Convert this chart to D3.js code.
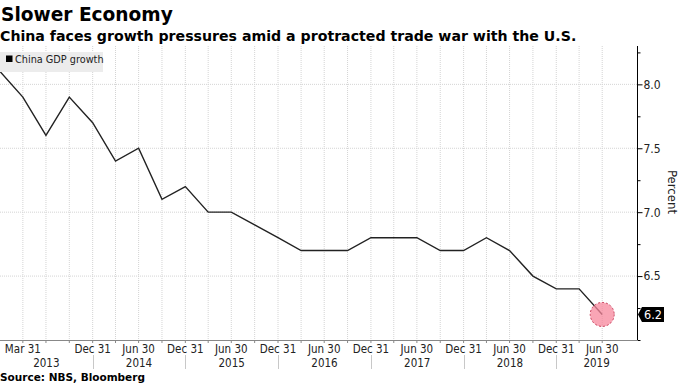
<!DOCTYPE html>
<html><head><meta charset="utf-8">
<script src="https://cdn.jsdelivr.net/npm/d3@7"></script>
<style>
body{margin:0;background:#fff;}
svg{display:block;}
</style></head>
<body>
<script>
// ---- data ----
const quarters = ["2012-12-31","2013-03-31","2013-06-30","2013-09-30","2013-12-31",
  "2014-03-31","2014-06-30","2014-09-30","2014-12-31",
  "2015-03-31","2015-06-30","2015-09-30","2015-12-31",
  "2016-03-31","2016-06-30","2016-09-30","2016-12-31",
  "2017-03-31","2017-06-30","2017-09-30","2017-12-31",
  "2018-03-31","2018-06-30","2018-09-30","2018-12-31",
  "2019-03-31","2019-06-30"];
const gdpGrowth = [8.1,7.9,7.6,7.9,7.7,7.4,7.5,7.1,7.2,7.0,7.0,6.9,6.8,6.7,6.7,6.7,6.8,6.8,6.8,6.7,6.7,6.8,6.7,6.5,6.4,6.4,6.2];
const tickDates = ["2013-03-31","2013-12-31","2014-06-30","2014-12-31","2015-06-30","2015-12-31",
  "2016-06-30","2016-12-31","2017-06-30","2017-12-31","2018-06-30","2018-12-31","2019-06-30"];
const tickLabels = ["Mar 31","Dec 31","Jun 30","Dec 31","Jun 30","Dec 31","Jun 30","Dec 31","Jun 30","Dec 31","Jun 30","Dec 31","Jun 30"];
const years = ["2013","2014","2015","2016","2017","2018","2019"];
const yTicks = [6.5,7.0,7.5,8.0];
const yTickLabels = ["6.5","7.0","7.5","8.0"];
const seriesName = "China GDP growth";
const title = "Slower Economy";
const subtitle = "China faces growth pressures amid a protracted trade war with the U.S.";
const source = "Source: NBS, Bloomberg";
const axisTitle = "Percent";

// ---- layout ----
const W = 680, H = 383;
const plotL = 0, plotR = 637, plotT = 46, plotB = 340;
const parse = d3.timeParse("%Y-%m-%d");
const data = quarters.map((q,i)=>({date:parse(q), v:gdpGrowth[i]}));

const x = d3.scaleTime().domain([parse("2012-12-31"), parse("2019-11-14")]).range([plotL, plotR]);
const y = d3.scaleLinear().domain([6.0, 8.3]).range([plotB, plotT]);

const svg = d3.select("body").append("svg").attr("width", W).attr("height", H);
const condensed = "'DejaVu Sans Condensed', 'DejaVu Sans', sans-serif";
const boldFont = "'DejaVu Sans', Verdana, sans-serif";

function fitText(sel, target, size){
  sel.attr("font-size", size);
  const w = sel.node().getComputedTextLength();
  if (w > 0) sel.attr("font-size", size * target / w);
  return sel;
}

// titles
const t1 = svg.append("text").attr("x",1).attr("y",21).text(title)
  .attr("font-family",boldFont).attr("font-weight","bold").attr("fill","#000");
fitText(t1, 172, 20);
const t2 = svg.append("text").attr("x",0).attr("y",41).text(subtitle)
  .attr("font-family",boldFont).attr("font-weight","bold").attr("fill","#000");
fitText(t2, 577, 15);

// grid
const grid = svg.append("g");
grid.selectAll("line.vg").data(data.slice(1)).join("line")
  .attr("x1",d=>x(d.date)).attr("x2",d=>x(d.date))
  .attr("y1",plotT).attr("y2",plotB)
  .attr("stroke","#d4d4d4").attr("stroke-width",1).attr("stroke-dasharray","1,1");
grid.selectAll("line.hg").data(yTicks).join("line")
  .attr("x1",plotL).attr("x2",plotR)
  .attr("y1",d=>y(d)).attr("y2",d=>y(d))
  .attr("stroke","#d4d4d4").attr("stroke-width",1).attr("stroke-dasharray","1,1");

// x axis line + ticks
svg.append("line").attr("x1",plotL).attr("x2",plotR).attr("y1",plotB+0.5).attr("y2",plotB+0.5)
  .attr("stroke","#888").attr("stroke-width",1);
svg.selectAll("line.xt").data(data.slice(1)).join("line")
  .attr("x1",d=>x(d.date)).attr("x2",d=>x(d.date))
  .attr("y1",plotB).attr("y2",plotB+3)
  .attr("stroke","#888");
svg.selectAll("text.xl").data(tickDates).join("text")
  .attr("x",(d)=>x(parse(d))).attr("y",353)
  .attr("text-anchor","middle").text((d,i)=>tickLabels[i])
  .attr("font-family",condensed).attr("font-size",11.5).attr("fill","#222");

// year labels and separators
const yearInfo = years.map(yr=>{
  const a = Math.max(plotL, x(parse((+yr-1)+"-12-31")));
  const b = Math.min(plotR, x(parse(yr+"-12-31")));
  return {yr, a, b, sep: x(parse(yr+"-12-31"))};
});
svg.selectAll("text.yl").data(yearInfo).join("text")
  .attr("x",d=>(d.a+d.b)/2).attr("y",367)
  .attr("text-anchor","middle").text(d=>d.yr)
  .attr("font-family",condensed).attr("font-size",11.5).attr("fill","#222");
svg.selectAll("line.ys").data(yearInfo.filter(d=>d.sep<plotR)).join("line")
  .attr("x1",d=>Math.round(d.sep)+0.5).attr("x2",d=>Math.round(d.sep)+0.5)
  .attr("y1",355).attr("y2",369).attr("stroke","#c8c8c8");

// right axis
const yAxis = d3.axisRight(y).tickValues(d3.range(6.0,8.3,0.25)).tickSize(4)
  .tickFormat(d=>{const i=yTicks.findIndex(t=>Math.abs(t-d)<1e-6); return i>=0?yTickLabels[i]:"";});
const ya = svg.append("g").attr("transform",`translate(${plotR+0.5},0)`).call(yAxis);
ya.select(".domain").attr("d",`M0,${plotT}V${plotB}`).attr("stroke","#000");
ya.selectAll(".tick line").attr("stroke","#000").attr("x2",d=>yTicks.some(t=>Math.abs(t-d)<1e-6)?5:3);
ya.selectAll(".tick text").attr("x",6).attr("font-family",condensed).attr("font-size",12).attr("fill","#222");
svg.append("text").attr("transform",`translate(${668},${192}) rotate(90)`)
  .attr("text-anchor","middle").text(axisTitle)
  .attr("font-family",condensed).attr("font-size",13).attr("fill","#222");

// line
svg.append("path").datum(data)
  .attr("d", d3.line().x(d=>x(d.date)).y(d=>y(d.v)))
  .attr("fill","none").attr("stroke","#222").attr("stroke-width",1.4);

// last point marker
const last = data[data.length-1];
svg.append("circle").attr("cx",x(last.date)).attr("cy",y(last.v)).attr("r",12)
  .attr("fill","#f7879c").attr("fill-opacity",0.75)
  .attr("stroke","#c8405c").attr("stroke-dasharray","2,2").attr("stroke-width",1);

// last value label
const ly = y(last.v);
svg.append("path")
  .attr("d",`M${plotR+1},${ly} L${plotR+5},${ly-7.5} H${plotR+27} V${ly+7.5} H${plotR+5} Z`)
  .attr("fill","#000");
svg.append("text").attr("x",plotR+16).attr("y",ly+4.5).attr("text-anchor","middle")
  .text(d3.format(".1f")(last.v)).attr("fill","#fff")
  .attr("font-family",condensed).attr("font-size",12.5);

// legend
svg.append("rect").attr("x",0).attr("y",52).attr("width",103).attr("height",20).attr("fill","#ececec");
svg.append("rect").attr("x",6).attr("y",55.5).attr("width",6.5).attr("height",6.5).attr("fill","#000");
svg.append("text").attr("x",15).attr("y",63).text(seriesName)
  .attr("font-family",condensed).attr("font-size",10.8).attr("fill","#222");

// source
svg.append("text").attr("x",0).attr("y",381).text(source)
  .attr("font-family","'DejaVu Sans', sans-serif").attr("font-weight","bold")
  .attr("font-size",10.5).attr("fill","#000");
</script>
</body></html>
